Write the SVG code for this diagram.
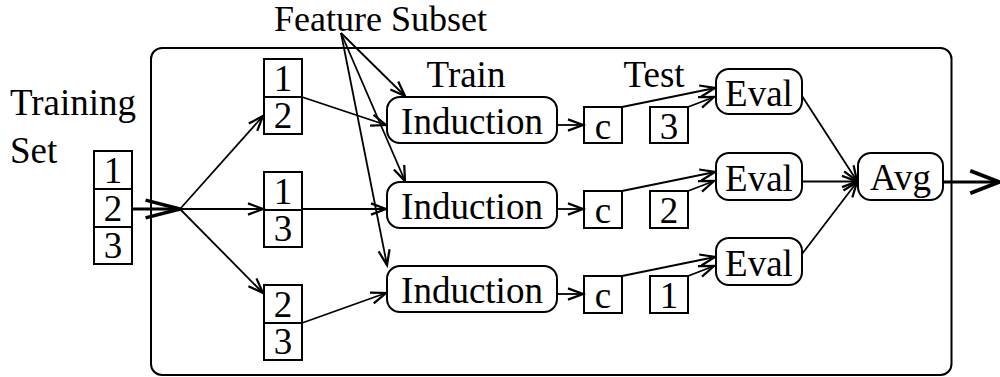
<svg xmlns="http://www.w3.org/2000/svg" width="1000" height="377" viewBox="0 0 1000 377">
<defs>
<marker id="ah" markerUnits="userSpaceOnUse" orient="auto" markerWidth="20" markerHeight="20" viewBox="-14 -7 16 14" refX="0" refY="0" overflow="visible">
<path d="M-12,-4.5 L0,0 L-12,4.5" fill="none" stroke="#000" stroke-width="1.8"/>
</marker>
<marker id="ahT" markerUnits="userSpaceOnUse" orient="auto" markerWidth="40" markerHeight="30" viewBox="-34 -10 36 20" refX="0" refY="0" overflow="visible">
<path d="M-31,-8 L0,0 L-31,8" fill="none" stroke="#000" stroke-width="3.2"/>
</marker>
<marker id="ahO" markerUnits="userSpaceOnUse" orient="auto" markerWidth="40" markerHeight="30" viewBox="-28 -12 30 24" refX="0" refY="0" overflow="visible">
<path d="M-23,-9 L0,0 L-23,9" fill="none" stroke="#000" stroke-width="3.2"/>
</marker>
</defs>
<style>
text{font-family:'Nimbus Roman','Times','Tinos','Liberation Serif',serif;font-size:37px;fill:#000}
.c{text-anchor:middle}
.box{fill:none;stroke:#000;stroke-width:2}
.rb{fill:#fff;stroke:#000;stroke-width:2}
.ln{fill:none;stroke:#000;stroke-width:1.8;marker-end:url(#ah)}
</style>
<rect width="1000" height="377" fill="#fff"/>
<g id="frame"><rect x="151" y="48" width="800.5" height="327" rx="11" class="box"/></g>
<g id="labels">
<text x="274" y="31" style="font-size:36px">Feature Subset</text>
<text x="10" y="115">Training</text>
<text x="10" y="163">Set</text>
<text x="466" y="87" class="c">Train</text>
<text x="654" y="87" class="c">Test</text>
</g>
<g id="connectors">
<line x1="132" y1="209" x2="180" y2="209" stroke="#000" stroke-width="3.2" marker-end="url(#ahT)"/>
<line x1="180" y1="209" x2="263" y2="116" class="ln"/>
<line x1="180" y1="209" x2="263" y2="209" class="ln"/>
<line x1="180" y1="209" x2="263" y2="293" class="ln"/>
<line x1="302" y1="97" x2="386" y2="125" class="ln"/>
<line x1="302" y1="209" x2="386" y2="209" class="ln"/>
<line x1="302" y1="323" x2="386" y2="293" class="ln"/>
<line x1="341" y1="33" x2="405" y2="96" class="ln"/>
<line x1="341" y1="33" x2="405" y2="181" class="ln"/>
<line x1="341" y1="33" x2="387" y2="265" class="ln"/>
<line x1="557" y1="125" x2="583" y2="125" class="ln"/>
<line x1="557" y1="209" x2="583" y2="209" class="ln"/>
<line x1="557" y1="294" x2="583" y2="294" class="ln"/>
<line x1="622" y1="107" x2="715" y2="88" class="ln"/>
<line x1="622" y1="191" x2="715" y2="172" class="ln"/>
<line x1="622" y1="276" x2="715" y2="257" class="ln"/>
<line x1="688" y1="107" x2="714" y2="97" class="ln"/>
<line x1="688" y1="191" x2="714" y2="181" class="ln"/>
<line x1="688" y1="276" x2="714" y2="266" class="ln"/>
<line x1="802" y1="96" x2="857" y2="181" class="ln"/>
<line x1="802" y1="181.5" x2="857" y2="181.5" class="ln"/>
<line x1="802" y1="254" x2="857" y2="182" class="ln"/>
<line x1="943" y1="182" x2="999" y2="182" stroke="#000" stroke-width="3.2" marker-end="url(#ahO)"/>
</g>
<g id="training-set">
<rect x="94" y="151" width="38" height="38" class="box"/>
<rect x="94" y="189" width="38" height="38" class="box"/>
<rect x="94" y="227" width="38" height="37" class="box"/>
<text x="113" y="183" class="c">1</text>
<text x="113" y="221" class="c">2</text>
<text x="113" y="258" class="c">3</text>
</g>
<g id="subset-1">
<rect x="264" y="59" width="38" height="38" class="box"/>
<rect x="264" y="97" width="38" height="37" class="box"/>
<text x="283" y="91" class="c">1</text>
<text x="283" y="128" class="c">2</text>
</g>
<g id="subset-2">
<rect x="264" y="172" width="38" height="38" class="box"/>
<rect x="264" y="210" width="38" height="37" class="box"/>
<text x="283" y="204" class="c">1</text>
<text x="283" y="241" class="c">3</text>
</g>
<g id="subset-3">
<rect x="264" y="285" width="38" height="38" class="box"/>
<rect x="264" y="323" width="38" height="37" class="box"/>
<text x="283" y="317" class="c">2</text>
<text x="283" y="354" class="c">3</text>
</g>
<g id="induction-1"><rect x="387" y="97" width="170" height="46" rx="13" class="rb"/><text x="472" y="134" class="c">Induction</text></g>
<g id="induction-2"><rect x="387" y="182" width="170" height="46" rx="13" class="rb"/><text x="472" y="219" class="c">Induction</text></g>
<g id="induction-3"><rect x="387" y="266" width="170" height="46" rx="13" class="rb"/><text x="472" y="303" class="c">Induction</text></g>
<g id="c-1"><rect x="584" y="107" width="38" height="36" class="box"/><text x="603" y="139" class="c">c</text></g>
<g id="c-2"><rect x="584" y="191" width="38" height="37" class="box"/><text x="603" y="223" class="c">c</text></g>
<g id="c-3"><rect x="584" y="276" width="38" height="37" class="box"/><text x="603" y="308" class="c">c</text></g>
<g id="test-3"><rect x="650" y="107" width="38" height="36" class="box"/><text x="669" y="139" class="c">3</text></g>
<g id="test-2"><rect x="650" y="191" width="38" height="37" class="box"/><text x="669" y="223" class="c">2</text></g>
<g id="test-1"><rect x="650" y="276" width="38" height="37" class="box"/><text x="669" y="308" class="c">1</text></g>
<g id="eval-1"><rect x="716" y="69" width="86" height="45" rx="13" class="rb"/><text x="759" y="106" class="c">Eval</text></g>
<g id="eval-2"><rect x="716" y="153" width="86" height="47" rx="13" class="rb"/><text x="759" y="191" class="c">Eval</text></g>
<g id="eval-3"><rect x="716" y="238" width="86" height="47" rx="13" class="rb"/><text x="759" y="276" class="c">Eval</text></g>
<g id="avg"><rect x="858" y="153" width="85" height="47" rx="13" class="rb"/><text x="900.5" y="190" class="c">Avg</text></g>
</svg>
